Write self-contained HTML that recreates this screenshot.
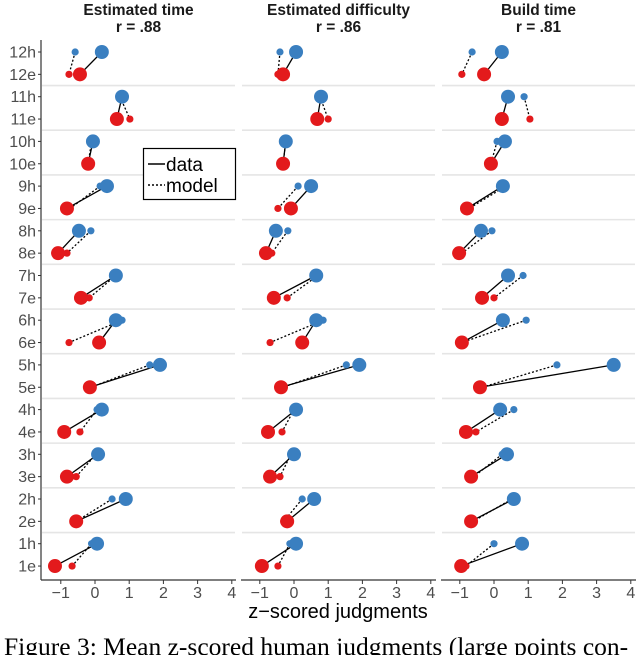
<!DOCTYPE html>
<html><head><meta charset="utf-8"><style>
body{margin:0;background:#fff;width:640px;height:655px;overflow:hidden}
svg text{font-family:"Liberation Sans",sans-serif}
</style></head><body>
<svg id="chart" width="640" height="655" xmlns="http://www.w3.org/2000/svg"></svg>
<script>
const rowLabels=["12h","12e","11h","11e","10h","10e","9h","9e","8h","8e","7h","7e","6h","6e","5h","5e","4h","4e","3h","3e","2h","2e","1h","1e"];
const panelTitles=["Estimated time","Estimated difficulty","Build time"];
const panelR=["r = .88","r = .86","r = .81"];
const xTicks=[-1,0,1,2,3,4];
const dataTime=[0.2,-0.44,0.79,0.64,-0.06,-0.2,0.35,-0.82,-0.47,-1.08,0.61,-0.41,0.61,0.12,1.9,-0.15,0.2,-0.9,0.09,-0.82,0.9,-0.55,0.06,-1.17];
const modelTime=[-0.58,-0.76,0.73,1.02,-0.1,-0.2,0.15,-0.73,-0.12,-0.82,0.61,-0.17,0.79,-0.76,1.6,-0.12,0.06,-0.44,0.03,-0.55,0.5,-0.55,-0.1,-0.67];
const dataDiff=[0.06,-0.32,0.79,0.68,-0.24,-0.32,0.5,-0.09,-0.53,-0.82,0.65,-0.59,0.65,0.24,1.91,-0.38,0.06,-0.76,0,-0.7,0.59,-0.2,0.06,-0.94];
const modelDiff=[-0.41,-0.47,0.76,1.0,-0.24,-0.32,0.12,-0.47,-0.18,-0.65,0.7,-0.2,0.85,-0.7,1.53,-0.32,0,-0.35,-0.09,-0.41,0.24,-0.3,-0.12,-0.47];
const dataBuild=[0.23,-0.29,0.41,0.23,0.32,-0.09,0.26,-0.79,-0.38,-1.02,0.41,-0.35,0.26,-0.94,3.5,-0.41,0.18,-0.82,0.38,-0.67,0.58,-0.67,0.82,-0.96];
const modelBuild=[-0.64,-0.94,0.88,1.05,0.09,-0.09,0.35,-0.73,-0.06,-0.94,0.85,0,0.94,-0.94,1.84,-0.35,0.58,-0.53,0.24,-0.59,0.52,-0.61,0,-0.82];
const panels=[[dataTime,modelTime],[dataDiff,modelDiff],[dataBuild,modelBuild]];
const svg=document.getElementById('chart');const NS="http://www.w3.org/2000/svg";
function mk(t,a,p){const e=document.createElementNS(NS,t);for(const k in a)e.setAttribute(k,a[k]);(p||svg).appendChild(e);return e;}
const zeros=[95,294,494],unit=34.2,lefts=[41,241,441],rights=[236,436,636];
function yS(i){return 52+i*22.35;}
function xS(p,v){return zeros[p]+v*unit;}
const BLUE="#3a7fc0",RED="#e31a1c";
rowLabels.forEach((l,i)=>{
 const t=mk('text',{x:36,y:yS(i)+5.5,'text-anchor':'end','font-size':16,fill:'#4d4d4d'});t.textContent=l;
 
 mk('line',{x1:38,x2:41,y1:yS(i),y2:yS(i),stroke:'#333','stroke-width':1});
});
for(let p=0;p<3;p++){
 const g=mk('g',{});
 const cx=(lefts[p]+rights[p])/2;
 const t1=mk('text',{x:cx,y:15,'text-anchor':'middle','font-size':15.5,'font-weight':'bold',fill:'#1a1a1a'},g);t1.textContent=panelTitles[p];
 
 const t2=mk('text',{x:cx,y:32,'text-anchor':'middle','font-size':15.5,'font-weight':'bold',fill:'#1a1a1a'},g);t2.textContent=panelR[p];
 
 for(let k=1;k<12;k++){const y=(yS(2*k-1)+yS(2*k))/2;mk('line',{x1:lefts[p]+1,x2:rights[p]-1,y1:y,y2:y,stroke:'#e5e5e5','stroke-width':1.6},g);}
 mk('line',{x1:lefts[p],x2:rights[p],y1:580,y2:580,stroke:'#333','stroke-width':1.2},g);
 if(p==0)mk('line',{x1:41,x2:41,y1:40,y2:580,stroke:'#333','stroke-width':1.2},g);
 xTicks.forEach(v=>{const x=xS(p,v);mk('line',{x1:x,x2:x,y1:580,y2:584,stroke:'#333'},g);
  const t=mk('text',{x:x,y:598,'text-anchor':'middle','font-size':16,fill:'#4d4d4d'},g);t.textContent=(v<0?'\u2212':'')+Math.abs(v);
  });
 const [d,m]=panels[p];
 for(let k=0;k<12;k++){const h=2*k,e=2*k+1;
  const l1=mk('line',{x1:xS(p,d[h]),y1:yS(h),x2:xS(p,d[e]),y2:yS(e),stroke:'#000','stroke-width':1.3},g);
  
  const l2=mk('line',{x1:xS(p,m[h]),y1:yS(h),x2:xS(p,m[e]),y2:yS(e),stroke:'#000','stroke-width':1.3,'stroke-dasharray':'2,2'},g);
  }
 for(let i=0;i<24;i++){const c=i%2==0?BLUE:RED;
  const s=mk('circle',{cx:xS(p,m[i]),cy:yS(i),r:3.6,fill:c},g);
  const b=mk('circle',{cx:xS(p,d[i]),cy:yS(i),r:7,fill:c},g);}
}
const lg=mk('g',{});
mk('rect',{x:143.5,y:148.5,width:92,height:51,fill:'#fff',stroke:'#000','stroke-width':1.2},lg);
mk('line',{x1:148,x2:165,y1:164,y2:164,stroke:'#000','stroke-width':1.5},lg);
mk('line',{x1:148,x2:165,y1:185,y2:185,stroke:'#000','stroke-width':1.5,'stroke-dasharray':'2,2'},lg);
let t=mk('text',{x:166,y:171,'font-size':19,fill:'#000'},lg);t.textContent='data';
t=mk('text',{x:166,y:192,'font-size':19,fill:'#000'},lg);t.textContent='model';
t=mk('text',{x:338,y:618,'text-anchor':'middle','font-size':20,fill:'#000'});t.textContent='z\u2212scored judgments';
t=mk('text',{x:4,y:655,'font-size':25.5,fill:'#000',style:'font-family:"Liberation Serif",serif'});t.textContent='Figure 3: Mean z-scored human judgments (large points con-';
</script>
</body></html>
